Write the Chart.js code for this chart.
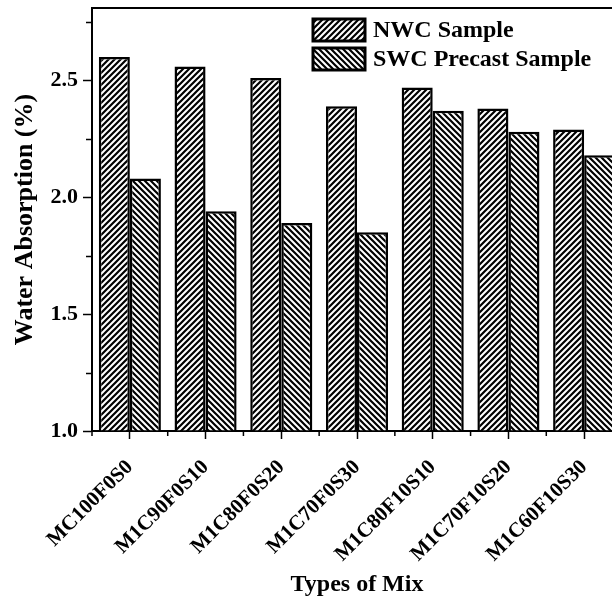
<!DOCTYPE html>
<html>
<head>
<meta charset="utf-8">
<script src="https://cdn.jsdelivr.net/npm/chart.js@4.4.1/dist/chart.umd.min.js"></script>
<style>
  html, body { margin: 0; padding: 0; background: #fff; }
  #wrap { width: 612px; height: 600px; overflow: hidden; }
</style>
</head>
<body>
<div id="wrap"><canvas id="myChart" width="640" height="600"></canvas></div>
<script>
    // donnees
    var mixes = ['MC100F0S0', 'M1C90F0S10', 'M1C80F0S20', 'M1C70F0S30', 'M1C80F10S10', 'M1C70F10S20', 'M1C60F10S30'];
    var nwcValues = [2.60, 2.56, 2.51, 2.39, 2.47, 2.38, 2.29];
    var swcValues = [2.08, 1.94, 1.89, 1.85, 2.37, 2.28, 2.18];
    var yTicks = [1.0, 1.5, 2.0, 2.5];
    var yMinorTicks = [1.25, 1.75, 2.25, 2.75];

    var serif = "'Liberation Serif', 'Times New Roman', serif";

    // motif hachure : dir 1 = '/', dir -1 = '\'
    function makeHatch(dir) {
        var s = 6;
        var c = document.createElement('canvas');
        c.width = s; c.height = s;
        var g = c.getContext('2d');
        g.fillStyle = '#fff';
        g.fillRect(0, 0, s, s);
        g.strokeStyle = '#000';
        g.lineWidth = 2.2;
        g.beginPath();
        if (dir > 0) {
            g.moveTo(0, s); g.lineTo(s, 0);
            g.moveTo(-2, 2); g.lineTo(2, -2);
            g.moveTo(s - 2, s + 2); g.lineTo(s + 2, s - 2);
        } else {
            g.moveTo(0, 0); g.lineTo(s, s);
            g.moveTo(-2, s - 2); g.lineTo(2, s + 2);
            g.moveTo(s - 2, -2); g.lineTo(s + 2, 2);
        }
        g.stroke();
        return g.createPattern(c, 'repeat');
    }

    // petites graduations + cadre du haut + legende
    var extras = {
        id: 'extras',
        afterDraw: function (chart) {
            var ctx = chart.ctx;
            var area = chart.chartArea;
            var x = chart.scales.x, y = chart.scales.y;
            ctx.save();
            ctx.strokeStyle = '#000';
            ctx.lineWidth = 1.5;
            ctx.beginPath();
            yMinorTicks.forEach(function (v) {
                var py = Math.round(y.getPixelForValue(v)) + 0.5;
                ctx.moveTo(area.left - 6, py);
                ctx.lineTo(area.left, py);
            });
            var step = x.getPixelForValue(1) - x.getPixelForValue(0);
            for (var i = 0; i <= mixes.length; i++) {
                var px = x.getPixelForValue(0) - step / 2 + i * step;
                ctx.moveTo(px, area.bottom);
                ctx.lineTo(px, area.bottom + 5);
            }
            ctx.stroke();

            // cadre du haut
            ctx.lineWidth = 2;
            ctx.beginPath();
            ctx.moveTo(area.left - 1, area.top);
            ctx.lineTo(area.right + 1, area.top);
            ctx.stroke();

            // legende
            ctx.font = 'bold 24px ' + serif;
            ctx.textBaseline = 'alphabetic';
            ctx.textAlign = 'left';
            chart.data.datasets.forEach(function (ds, k) {
                var by = 19 + k * 29;
                ctx.fillStyle = ds.backgroundColor;
                ctx.fillRect(313, by, 52, 22);
                ctx.lineWidth = 3;
                ctx.strokeRect(313, by, 52, 22);
                ctx.fillStyle = '#000';
                ctx.fillText(ds.label, 373, by + 18);
            });
            ctx.restore();
        }
    };

    const ctx = document.getElementById('myChart').getContext('2d');
    const myChart = new Chart(ctx, {
        type: 'bar',
        data: {
            labels: mixes,
            datasets: [{
                label: 'NWC Sample',
                data: nwcValues,
                backgroundColor: makeHatch(1),
                borderColor: '#000',
                borderWidth: 2.5,
                base: 1
            }, {
                label: 'SWC Precast Sample',
                data: swcValues,
                backgroundColor: makeHatch(-1),
                borderColor: '#000',
                borderWidth: 2.5,
                base: 1
            }]
        },
        options: {
            responsive: false,
            animation: false,
            devicePixelRatio: 1,
            layout: {
                padding: { top: 8, right: 18, left: 0, bottom: 0 }
            },
            datasets: {
                bar: { barPercentage: 1, categoryPercentage: 0.82 }
            },
            plugins: {
                legend: { display: false },
                tooltip: { enabled: false }
            },
            scales: {
                x: {
                    afterFit: function (scale) {
                        scale.height = 169;
                        scale.paddingLeft = 0;
                        scale.paddingRight = 0;
                    },
                    grid: {
                        offset: false,
                        drawOnChartArea: false,
                        drawTicks: true,
                        tickLength: 8,
                        tickWidth: 1.5,
                        tickColor: '#000'
                    },
                    border: { display: true, color: '#000', width: 2 },
                    ticks: {
                        autoSkip: false,
                        minRotation: 45,
                        maxRotation: 45,
                        padding: 16,
                        color: '#000',
                        font: { family: serif, size: 21, weight: 'bold' }
                    },
                    title: {
                        display: true,
                        text: 'Types of Mix',
                        color: '#000',
                        padding: { top: 0, bottom: 1 },
                        font: { family: serif, size: 24, weight: 'bold' }
                    }
                },
                y: {
                    min: 1.0,
                    max: 2.81,
                    afterFit: function (scale) {
                        scale.width = 92;
                        scale.paddingTop = 0;
                        scale.paddingBottom = 0;
                    },
                    afterBuildTicks: function (scale) {
                        scale.ticks = yTicks.map(function (v) { return { value: v }; });
                    },
                    grid: {
                        drawOnChartArea: false,
                        drawTicks: true,
                        tickLength: 9,
                        tickWidth: 1.5,
                        tickColor: '#000'
                    },
                    border: { display: true, color: '#000', width: 2 },
                    ticks: {
                        padding: 5,
                        color: '#000',
                        font: { family: serif, size: 22, weight: 'bold' },
                        callback: function (v) { return Number(v).toFixed(1); }
                    },
                    title: {
                        display: true,
                        text: 'Water Absorption (%)',
                        color: '#000',
                        padding: { top: 10, bottom: 0 },
                        font: { family: serif, size: 26, weight: 'bold' }
                    }
                }
            }
        },
        plugins: [extras]
    });
</script>
</body>
</html>
